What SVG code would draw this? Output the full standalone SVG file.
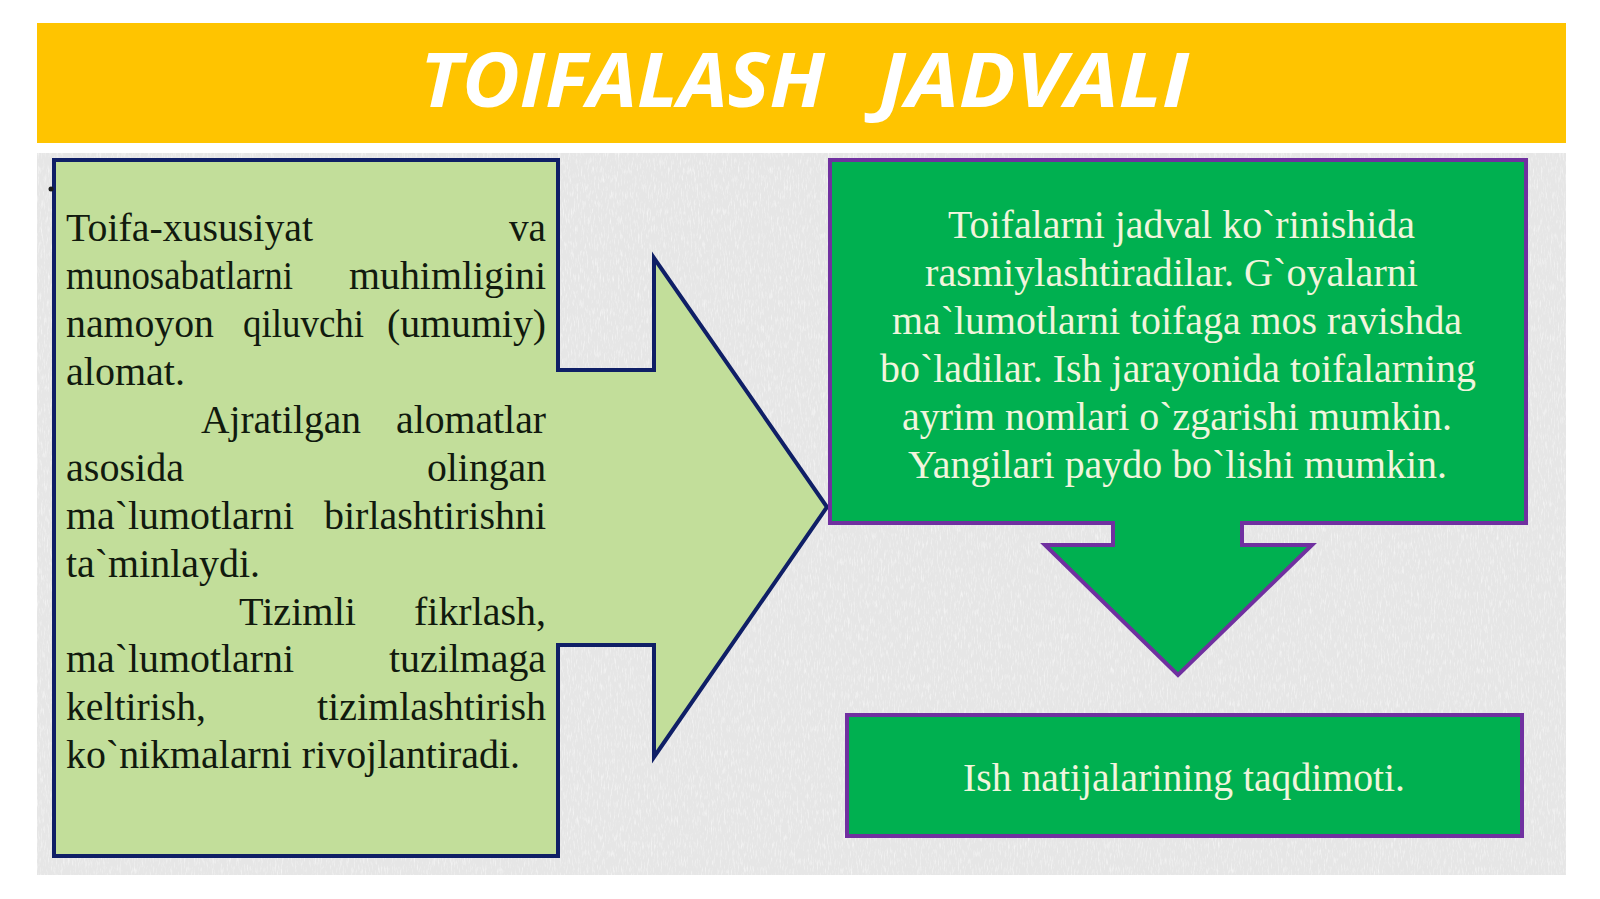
<svg xmlns="http://www.w3.org/2000/svg" width="1600" height="899" viewBox="0 0 1600 899">
<defs>
<filter id="noise" x="0" y="0" width="100%" height="100%">
<feTurbulence type="fractalNoise" baseFrequency="0.7 0.12" numOctaves="3" seed="7"/>
<feColorMatrix type="matrix" values="0 0 0 0 1  0 0 0 0 1  0 0 0 0 1  2.4 0 0 0 -1.2"/>
</filter>
<style>
.lt{font-family:"Liberation Serif","Times New Roman",serif;font-size:41px;fill:#111a0e}
.rt{font-family:"Liberation Serif","Times New Roman",serif;font-size:41px;fill:#f1f5dd}
.title{font-family:"Open Sans","Noto Sans",sans-serif;font-weight:700;font-style:italic;font-size:76px;fill:#ffffff}
.navy{fill:#c2de9a;stroke:#0f1f66;stroke-width:4;stroke-linejoin:miter}
.grn{fill:#00b050;stroke:#7030a0;stroke-width:4;stroke-linejoin:miter}
</style>
</defs>
<rect width="1600" height="899" fill="#ffffff"/>
<g id="background">
<rect x="37" y="153" width="1529" height="722" fill="#e6e6e6"/>
<rect x="37" y="153" width="1529" height="722" filter="url(#noise)" opacity="0.6"/>
</g>
<g id="banner">
<rect x="37" y="23" width="1529" height="120" fill="#ffc400"/>
<text class="title" x="420" y="107" textLength="405" lengthAdjust="spacingAndGlyphs">TOIFALASH</text>
<text class="title" x="878" y="107" textLength="311" lengthAdjust="spacingAndGlyphs">JADVALI</text>
</g>
<g id="connectors"></g>
<g id="left-callout">
<path class="navy" d="M54,160 H558 V370 H654 V258 L827,507 L654,757 V645 H558 V856 H54 Z"/>
<circle cx="51" cy="189" r="2.5" fill="#1a1a1a"/>
<text class="lt" x="66" y="241" textLength="247" lengthAdjust="spacingAndGlyphs">Toifa-xususiyat</text>
<text class="lt" x="509" y="241" textLength="37" lengthAdjust="spacingAndGlyphs">va</text>
<text class="lt" x="66" y="289" textLength="227" lengthAdjust="spacingAndGlyphs">munosabatlarni</text>
<text class="lt" x="349" y="289" textLength="197" lengthAdjust="spacingAndGlyphs">muhimligini</text>
<text class="lt" x="66" y="337" textLength="148" lengthAdjust="spacingAndGlyphs">namoyon</text>
<text class="lt" x="243" y="337" textLength="121" lengthAdjust="spacingAndGlyphs">qiluvchi</text>
<text class="lt" x="387" y="337" textLength="159" lengthAdjust="spacingAndGlyphs">(umumiy)</text>
<text class="lt" x="66" y="385" textLength="119" lengthAdjust="spacingAndGlyphs">alomat.</text>
<text class="lt" x="201" y="433" textLength="160" lengthAdjust="spacingAndGlyphs">Ajratilgan</text>
<text class="lt" x="396" y="433" textLength="150" lengthAdjust="spacingAndGlyphs">alomatlar</text>
<text class="lt" x="66" y="481" textLength="118" lengthAdjust="spacingAndGlyphs">asosida</text>
<text class="lt" x="427" y="481" textLength="119" lengthAdjust="spacingAndGlyphs">olingan</text>
<text class="lt" x="66" y="529" textLength="228" lengthAdjust="spacingAndGlyphs">ma`lumotlarni</text>
<text class="lt" x="324" y="529" textLength="222" lengthAdjust="spacingAndGlyphs">birlashtirishni</text>
<text class="lt" x="66" y="577" textLength="194" lengthAdjust="spacingAndGlyphs">ta`minlaydi.</text>
<text class="lt" x="239" y="625" textLength="117" lengthAdjust="spacingAndGlyphs">Tizimli</text>
<text class="lt" x="414" y="625" textLength="132" lengthAdjust="spacingAndGlyphs">fikrlash,</text>
<text class="lt" x="66" y="672" textLength="228" lengthAdjust="spacingAndGlyphs">ma`lumotlarni</text>
<text class="lt" x="389" y="672" textLength="157" lengthAdjust="spacingAndGlyphs">tuzilmaga</text>
<text class="lt" x="66" y="720" textLength="140" lengthAdjust="spacingAndGlyphs">keltirish,</text>
<text class="lt" x="317" y="720" textLength="229" lengthAdjust="spacingAndGlyphs">tizimlashtirish</text>
<text class="lt" x="66" y="768" textLength="454" lengthAdjust="spacingAndGlyphs">ko`nikmalarni rivojlantiradi.</text>
</g>
<g id="right-callout">
<path class="grn" d="M830,160 H1526 V523 H1242 V545 H1312 L1178,675 L1045,545 H1113 V523 H830 Z"/>
<text class="rt" x="948" y="238" textLength="467" lengthAdjust="spacingAndGlyphs">Toifalarni jadval ko`rinishida</text>
<text class="rt" x="925" y="286" textLength="493" lengthAdjust="spacingAndGlyphs">rasmiylashtiradilar. G`oyalarni</text>
<text class="rt" x="892" y="334" textLength="570" lengthAdjust="spacingAndGlyphs">ma`lumotlarni toifaga mos ravishda</text>
<text class="rt" x="880" y="382" textLength="596" lengthAdjust="spacingAndGlyphs">bo`ladilar. Ish jarayonida toifalarning</text>
<text class="rt" x="902" y="430" textLength="550" lengthAdjust="spacingAndGlyphs">ayrim nomlari o`zgarishi mumkin.</text>
<text class="rt" x="908" y="478" textLength="539" lengthAdjust="spacingAndGlyphs">Yangilari paydo bo`lishi mumkin.</text>
</g>
<g id="result-box">
<rect class="grn" x="847" y="715" width="675" height="121"/>
<text class="rt" x="963" y="791" textLength="442" lengthAdjust="spacingAndGlyphs">Ish natijalarining taqdimoti.</text>
</g>
</svg>
